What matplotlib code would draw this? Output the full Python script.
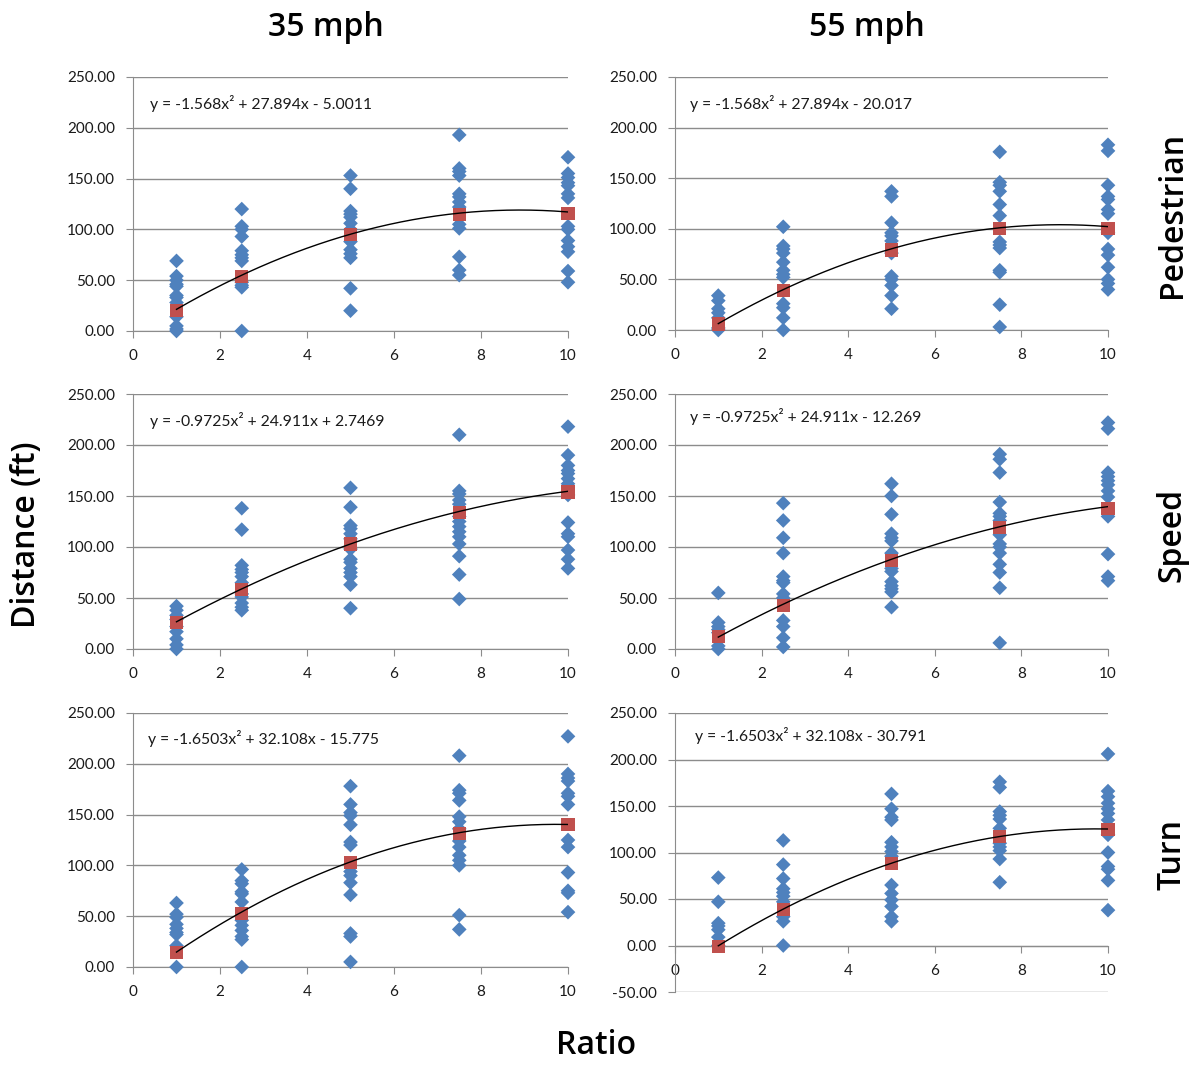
import matplotlib
matplotlib.use("Agg")
import matplotlib.pyplot as plt
import numpy as np
from matplotlib.ticker import FormatStrFormatter, MultipleLocator

# ---------------- data ----------------
ratios = [1, 2.5, 5, 7.5, 10]

ped35_points = [
    [69, 54, 50, 46, 44, 35, 33, 28, 14, 5, 2, 0],
    [120, 103, 100, 93, 79, 75, 72, 69, 48, 45, 43, 0],
    [153, 140, 118, 115, 112, 106, 100, 88, 80, 76, 72, 42, 20],
    [193, 160, 157, 153, 135, 132, 127, 122, 105, 101, 73, 60, 55],
    [171, 155, 151, 146, 143, 135, 131, 103, 100, 89, 83, 78, 59, 48],
]
ped35_means = [20, 54, 95, 115, 116]
ped35_coef = [-1.568, 27.894, -5.0011]

ped55_points = [
    [34, 29, 21, 17, 12, 2, 0],
    [102, 83, 80, 76, 67, 59, 55, 52, 26, 22, 12, 0],
    [137, 132, 106, 96, 93, 88, 76, 53, 50, 44, 34, 21],
    [176, 146, 143, 137, 124, 113, 87, 84, 81, 59, 57, 25, 3],
    [183, 177, 143, 132, 129, 119, 115, 96, 80, 74, 62, 50, 46, 40],
]
ped55_means = [6, 39, 79, 100, 100]
ped55_coef = [-1.568, 27.894, -20.017]

spd35_points = [
    [42, 38, 33, 29, 22, 17, 10, 4, 0],
    [138, 117, 82, 78, 75, 71, 65, 54, 51, 45, 41, 38],
    [158, 139, 121, 118, 113, 108, 98, 88, 85, 79, 75, 71, 63, 40],
    [210, 155, 152, 146, 142, 130, 125, 120, 115, 110, 103, 91, 73, 49],
    [218, 190, 180, 175, 172, 167, 162, 151, 124, 113, 110, 97, 88, 79],
]
spd35_means = [26, 58, 103, 134, 154]
spd35_coef = [-0.9725, 24.911, 2.7469]

spd55_points = [
    [55, 26, 22, 19, 16, 3, 0],
    [143, 126, 109, 94, 71, 67, 65, 54, 50, 28, 22, 11, 2],
    [162, 150, 132, 113, 109, 106, 94, 79, 76, 66, 62, 59, 56, 41],
    [191, 186, 173, 144, 133, 130, 126, 112, 103, 100, 94, 83, 75, 60, 6],
    [222, 216, 173, 169, 165, 161, 155, 149, 130, 93, 71, 67],
]
spd55_means = [12, 43, 87, 119, 138]
spd55_coef = [-0.9725, 24.911, -12.269]

trn35_points = [
    [63, 52, 49, 42, 38, 34, 32, 21, 0],
    [96, 85, 82, 74, 72, 64, 46, 41, 36, 30, 27, 0],
    [178, 160, 152, 149, 140, 123, 120, 94, 90, 83, 71, 33, 30, 5],
    [208, 174, 171, 164, 148, 143, 136, 124, 118, 110, 105, 100, 51, 37],
    [227, 190, 186, 183, 171, 168, 160, 125, 118, 93, 75, 73, 54],
]
trn35_means = [14, 53, 103, 131, 140]
trn35_coef = [-1.6503, 32.108, -15.775]

trn55_points = [
    [73, 47, 24, 21, 17, 9, 0],
    [113, 87, 72, 61, 57, 53, 47, 31, 26, 0],
    [163, 147, 138, 135, 111, 106, 101, 96, 65, 56, 49, 42, 31, 26],
    [176, 170, 144, 140, 136, 126, 110, 106, 102, 93, 68],
    [206, 166, 160, 153, 147, 142, 135, 119, 100, 85, 82, 70, 38],
]
trn55_means = [-1, 39, 88, 117, 125]
trn55_coef = [-1.6503, 32.108, -30.791]

col_titles = ["35 mph", "55 mph"]
row_titles = ["Pedestrian", "Speed", "Turn"]
y_label = "Distance (ft)"
x_label = "Ratio"

# ---------------- drawing ----------------
W, H = 1198, 1066
fig = plt.figure(figsize=(W / 100, H / 100), dpi=100)

BLUE = "#4F81BD"
RED = "#C0504D"
GRID = "#8C8C8C"
TICKFONT = "Lato"


def fmt_eq(c):
    a, b, k = c
    s = "y = {}x\u00b2 ".format(f"{a:g}")
    s += "+ " if b >= 0 else "- "
    s += f"{abs(b):g}x "
    s += "+ " if k >= 0 else "- "
    s += f"{abs(k):g}"
    return s


# axes rectangles in pixels: (left, right, top, bottom)
panels = [
    (ped35_points, ped35_means, ped35_coef, (133, 568, 77, 331), (0, 250), (0.039, 0.894)),
    (ped55_points, ped55_means, ped55_coef, (675, 1108, 77, 330), (0, 250), (0.035, 0.894)),
    (spd35_points, spd35_means, spd35_coef, (133, 568, 394, 649), (0, 250), (0.039, 0.898)),
    (spd55_points, spd55_means, spd55_coef, (675, 1108, 394, 649), (0, 250), (0.035, 0.91)),
    (trn35_points, trn35_means, trn35_coef, (133, 568, 713, 967), (0, 250), (0.035, 0.898)),
    (trn55_points, trn55_means, trn55_coef, (675, 1108, 713, 992), (-50, 250), (0.046, 0.918)),
]

for pts, means, coef, (l, r, t, b), ylim, eqpos in panels:
    ax = fig.add_axes([l / W, 1 - b / H, (r - l) / W, (b - t) / H])
    ax.set_xlim(0, 10)
    ax.set_ylim(*ylim)
    ax.yaxis.set_major_locator(MultipleLocator(50))
    ax.xaxis.set_major_locator(MultipleLocator(2))
    ax.yaxis.set_major_formatter(FormatStrFormatter("%.2f"))
    ax.grid(axis="y", color=GRID, linewidth=1.0)
    ax.set_axisbelow(True)
    for s in ["top", "right"]:
        ax.spines[s].set_visible(False)
    ax.spines["left"].set_color(GRID)
    ax.spines["bottom"].set_color(GRID)
    ax.spines["bottom"].set_position(("data", 0))
    ax.tick_params(axis="both", direction="out", length=5, color=GRID,
                   labelsize=11, labelcolor="#1a1a1a")
    ax.tick_params(axis="y", pad=8)
    ax.tick_params(axis="x", pad=8)
    for lab in ax.get_xticklabels() + ax.get_yticklabels():
        lab.set_fontfamily(TICKFONT)

    for xv, ys in zip(ratios, pts):
        ax.scatter([xv] * len(ys), ys, marker="D", s=56, color=BLUE,
                   edgecolors="none", zorder=3, clip_on=False)
    ax.scatter(ratios, means, marker="s", s=90, color=RED,
               edgecolors="none", zorder=4, clip_on=False)
    xx = np.linspace(ratios[0], ratios[-1], 200)
    ax.plot(xx, np.polyval(coef, xx), color="black", linewidth=1.0, zorder=5)
    ax.text(eqpos[0], eqpos[1], fmt_eq(coef), transform=ax.transAxes,
            fontsize=11.3, fontfamily=TICKFONT, color="#1a1a1a",
            ha="left", va="center")

TITLEFONT = "Open Sans"
TS = 23
TW = "semibold"
fig.text(326 / W, 1 - 28 / H, col_titles[0], fontsize=TS, fontweight=TW,
         fontfamily=TITLEFONT, ha="center", va="center")
fig.text(867 / W, 1 - 28 / H, col_titles[1], fontsize=TS, fontweight=TW,
         fontfamily=TITLEFONT, ha="center", va="center")
for name, yc in zip(row_titles, [215, 535, 855]):
    fig.text(1172 / W, 1 - yc / H, name, fontsize=TS, fontweight=TW,
             fontfamily=TITLEFONT, rotation=90, ha="center", va="center")
fig.text(27 / W, 1 - 535 / H, y_label, fontsize=TS, fontweight=TW,
         fontfamily=TITLEFONT, rotation=90, ha="center", va="center")
fig.text(596 / W, 1 - 1045 / H, x_label, fontsize=TS, fontweight=TW,
         fontfamily=TITLEFONT, ha="center", va="center")

fig.savefig("out.png", dpi=100, facecolor="white")
